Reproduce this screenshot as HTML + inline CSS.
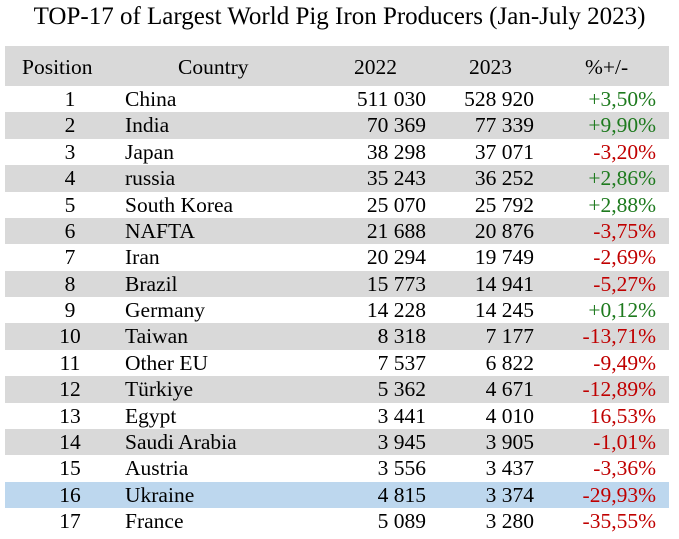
<!DOCTYPE html>
<html><head><meta charset="utf-8"><style>
body{margin:0;width:679px;height:539px;background:#fff;font-family:"Liberation Serif",serif;color:#000;position:relative;overflow:hidden}
.t{position:absolute;top:3px;left:0;width:679px;text-align:center;font-size:25px;font-family:"Liberation Serif",serif}
.h{position:absolute;left:5px;width:664px;top:46px;height:40px;background:#d9d9d9;font-family:"Liberation Serif",serif}
.r{position:absolute;left:5px;width:664px;height:26.4px;font-size:21.5px;line-height:27px;font-family:"Liberation Serif",serif}
.g{background:#d9d9d9}.b{background:#bdd7ee}
.r span,.h span{position:absolute;white-space:nowrap;font-family:"Liberation Serif",serif}
.p{left:0;width:130px;text-align:center}
.c{left:120px}
.a{right:243px}.y{right:135px}.z{right:13px}
.h span{line-height:42px;font-size:21.5px}
.gr{color:#1e7a1e}.rd{color:#c00000}
</style></head><body>
<div class="t">TOP-17 of Largest World Pig Iron Producers (Jan-July 2023)</div>
<div class="h"><span style="left:17px">Position</span><span style="left:173px">Country</span><span style="left:349px">2022</span><span style="left:464px">2023</span><span style="left:580px">%+/-</span></div>
<div id="rows"></div>
<script>
var d=[["1","China","511 030","528 920","+3,50%"],["2","India","70 369","77 339","+9,90%"],["3","Japan","38 298","37 071","-3,20%"],["4","russia","35 243","36 252","+2,86%"],["5","South Korea","25 070","25 792","+2,88%"],["6","NAFTA","21 688","20 876","-3,75%"],["7","Iran","20 294","19 749","-2,69%"],["8","Brazil","15 773","14 941","-5,27%"],["9","Germany","14 228","14 245","+0,12%"],["10","Taiwan","8 318","7 177","-13,71%"],["11","Other EU","7 537","6 822","-9,49%"],["12","Türkiye","5 362","4 671","-12,89%"],["13","Egypt","3 441","4 010","16,53%"],["14","Saudi Arabia","3 945","3 905","-1,01%"],["15","Austria","3 556","3 437","-3,36%"],["16","Ukraine","4 815","3 374","-29,93%"],["17","France","5 089","3 280","-35,55%"]];
var h="";d.forEach(function(r,i){var cls=i==15?"b":(i%2?"g":"");var col=(r[4][0]=="+")?"gr":"rd";
h+='<div class="r '+cls+'" style="top:'+(86+i*26.375)+'px"><span class="p">'+r[0]+'</span><span class="c">'+r[1]+'</span><span class="a">'+r[2]+'</span><span class="y">'+r[3]+'</span><span class="z '+col+'">'+r[4]+'</span></div>';});
document.getElementById("rows").innerHTML=h;
</script>
</body></html>
